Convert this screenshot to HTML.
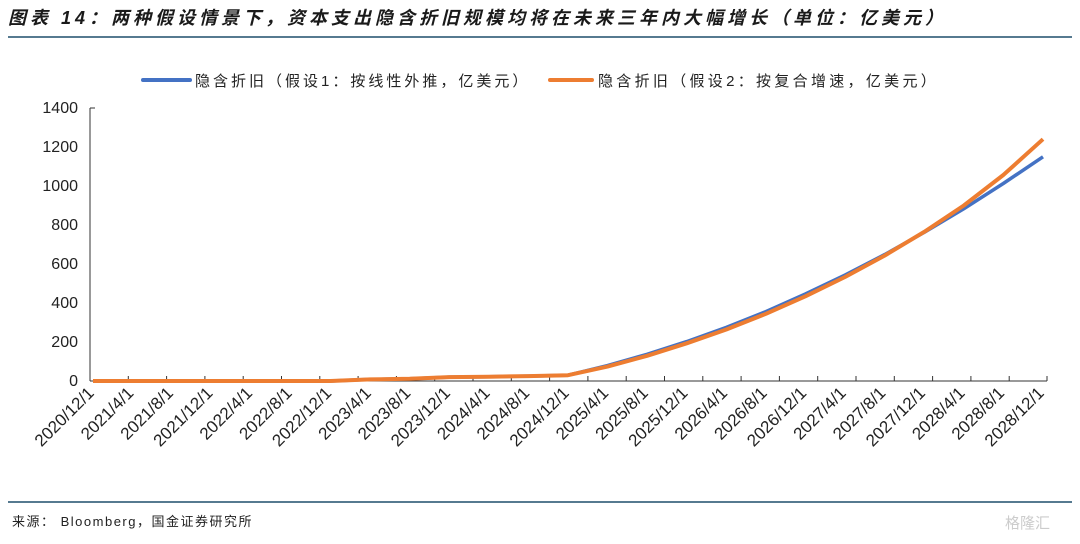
<!DOCTYPE html>
<html><head><meta charset="utf-8"><style>
body{margin:0;background:#fff;}
svg text{font-family:"Liberation Sans","Noto Sans CJK SC",sans-serif;}
</style></head><body>
<svg width="1080" height="539" xmlns="http://www.w3.org/2000/svg">
<text x="8" y="24" font-size="18" font-style="italic" font-weight="bold" fill="#1a1a1a" letter-spacing="4">图表 14：两种假设情景下，资本支出隐含折旧规模均将在未来三年内大幅增长（单位：亿美元）</text>
<line x1="8" y1="37" x2="1072" y2="37" stroke="#1f4e6b" stroke-width="1.5"/>
<line x1="143" y1="80" x2="190" y2="80" stroke="#4472c4" stroke-width="4" stroke-linecap="round"/>
<text x="195" y="86" font-size="15" fill="#222" letter-spacing="3">隐含折旧（假设1：按线性外推，亿美元）</text>
<line x1="550" y1="80" x2="592" y2="80" stroke="#ed7d31" stroke-width="4" stroke-linecap="round"/>
<text x="598" y="86" font-size="15" fill="#222" letter-spacing="3.3">隐含折旧（假设2：按复合增速，亿美元）</text>
<g font-size="16" fill="#222" text-anchor="end">
<text x="78" y="113">1400</text><text x="78" y="152">1200</text><text x="78" y="191">1000</text>
<text x="78" y="230">800</text><text x="78" y="269">600</text><text x="78" y="308">400</text>
<text x="78" y="347">200</text><text x="78" y="386">0</text>
</g>
<g stroke="#333" stroke-width="1">
<line x1="90" y1="108" x2="90" y2="381"/>
<line x1="90" y1="381" x2="1047" y2="381"/>
<line x1="90" y1="108" x2="95" y2="108"/>
</g>
<g stroke="#333" stroke-width="1">
<line x1="128.3" y1="376" x2="128.3" y2="381"/><line x1="166.6" y1="376" x2="166.6" y2="381"/><line x1="204.9" y1="376" x2="204.9" y2="381"/><line x1="243.2" y1="376" x2="243.2" y2="381"/><line x1="281.5" y1="376" x2="281.5" y2="381"/><line x1="319.8" y1="376" x2="319.8" y2="381"/><line x1="358.1" y1="376" x2="358.1" y2="381"/><line x1="396.4" y1="376" x2="396.4" y2="381"/><line x1="434.7" y1="376" x2="434.7" y2="381"/><line x1="473" y1="376" x2="473" y2="381"/><line x1="511.3" y1="376" x2="511.3" y2="381"/><line x1="549.6" y1="376" x2="549.6" y2="381"/><line x1="587.9" y1="376" x2="587.9" y2="381"/><line x1="626.2" y1="376" x2="626.2" y2="381"/><line x1="664.5" y1="376" x2="664.5" y2="381"/><line x1="702.8" y1="376" x2="702.8" y2="381"/><line x1="741.1" y1="376" x2="741.1" y2="381"/><line x1="779.4" y1="376" x2="779.4" y2="381"/><line x1="817.7" y1="376" x2="817.7" y2="381"/><line x1="856" y1="376" x2="856" y2="381"/><line x1="894.3" y1="376" x2="894.3" y2="381"/><line x1="932.6" y1="376" x2="932.6" y2="381"/><line x1="970.9" y1="376" x2="970.9" y2="381"/><line x1="1009.2" y1="376" x2="1009.2" y2="381"/><line x1="1047" y1="376" x2="1047" y2="381"/>
</g>
<polyline fill="none" stroke="#4472c4" stroke-width="3.5" stroke-linejoin="round" points="93,381 132.6,381 172.2,381 211.7,381 251.3,381 290.9,381 330.5,381 370.1,379.4 409.6,378.7 449.2,377.1 488.8,376.7 528.4,376.1 568,375.2 607.5,365.6 647.1,354.3 686.7,341.6 726.3,327.4 765.9,311.6 805.4,294 845,275.1 884.6,254.6 924.2,232.4 963.8,208.8 1003.3,183.5 1043,156.8"/>
<polyline fill="none" stroke="#ed7d31" stroke-width="4" stroke-linejoin="round" points="93,381 132.6,381 172.2,381 211.7,381 251.3,381 290.9,381 330.5,381 370.1,379.4 409.6,378.7 449.2,377.1 488.8,376.7 528.4,376.1 568,375.2 607.5,366.6 647.1,355.8 686.7,343.3 726.3,329.5 765.9,313.8 805.4,296.3 845,277 884.6,255.6 924.2,231.9 963.8,205.5 1003.3,175 1043,139.2"/>
<g font-size="17" fill="#222" text-anchor="end">
<text transform="translate(95,394) rotate(-45)">2020/12/1</text>
<text transform="translate(134.6,394) rotate(-45)">2021/4/1</text>
<text transform="translate(174.2,394) rotate(-45)">2021/8/1</text>
<text transform="translate(213.7,394) rotate(-45)">2021/12/1</text>
<text transform="translate(253.3,394) rotate(-45)">2022/4/1</text>
<text transform="translate(292.9,394) rotate(-45)">2022/8/1</text>
<text transform="translate(332.5,394) rotate(-45)">2022/12/1</text>
<text transform="translate(372.1,394) rotate(-45)">2023/4/1</text>
<text transform="translate(411.6,394) rotate(-45)">2023/8/1</text>
<text transform="translate(451.2,394) rotate(-45)">2023/12/1</text>
<text transform="translate(490.8,394) rotate(-45)">2024/4/1</text>
<text transform="translate(530.4,394) rotate(-45)">2024/8/1</text>
<text transform="translate(570,394) rotate(-45)">2024/12/1</text>
<text transform="translate(609.5,394) rotate(-45)">2025/4/1</text>
<text transform="translate(649.1,394) rotate(-45)">2025/8/1</text>
<text transform="translate(688.7,394) rotate(-45)">2025/12/1</text>
<text transform="translate(728.3,394) rotate(-45)">2026/4/1</text>
<text transform="translate(767.9,394) rotate(-45)">2026/8/1</text>
<text transform="translate(807.4,394) rotate(-45)">2026/12/1</text>
<text transform="translate(847,394) rotate(-45)">2027/4/1</text>
<text transform="translate(886.6,394) rotate(-45)">2027/8/1</text>
<text transform="translate(926.2,394) rotate(-45)">2027/12/1</text>
<text transform="translate(965.8,394) rotate(-45)">2028/4/1</text>
<text transform="translate(1005.3,394) rotate(-45)">2028/8/1</text>
<text transform="translate(1045,394) rotate(-45)">2028/12/1</text>
</g>
<line x1="8" y1="502" x2="1072" y2="502" stroke="#1f4e6b" stroke-width="1.5"/>
<text x="12" y="526" font-size="13" fill="#222" letter-spacing="1.5">来源：  Bloomberg，国金证券研究所</text>
<text x="1005" y="528" font-size="15" fill="#ccc">格隆汇</text>
</svg>
</body></html>
